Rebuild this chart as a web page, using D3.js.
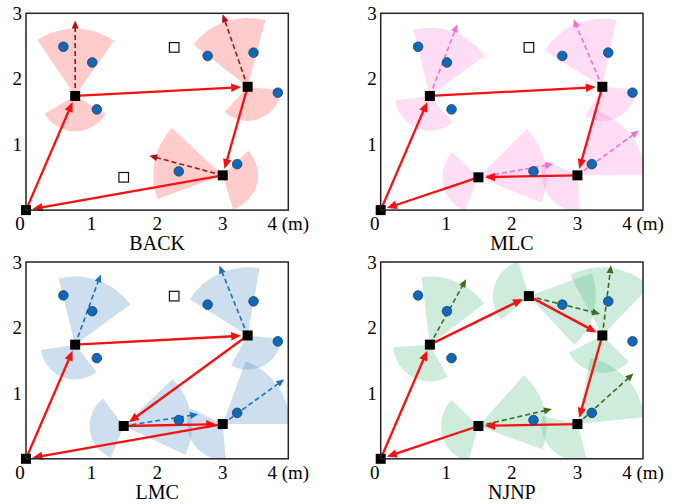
<!DOCTYPE html>
<html>
<head>
<meta charset="utf-8">
<script src="https://d3js.org/d3.v7.min.js"></script>
<style>
  body { margin: 0; background: #fff; }
</style>
</head>
<body>
<svg id="chart" width="681" height="504" font-family="Liberation Serif, Times New Roman, Times, serif"></svg>
<script>

// candidate stop positions (m), index 0 is the base at the origin
var nodes = [[0, 0], [0.75, 1.74], [2.26, 2.48], [3.38, 1.88], [3.0, 0.53], [1.49, 0.5]];
// sensors (blue dots), same in all four panels
var sensors = [[0.57, 2.49], [1.01, 2.25], [1.08, 1.535], [2.77, 2.35],
               [3.47, 2.40], [3.84, 1.79], [2.33, 0.59], [3.22, 0.70]];

var xTicks = [0, 1, 2, 3, 4];
var xTickLabels = ["0", "1", "2", "3", "4 (m)"];
var yTicks = [1, 2, 3];

var names = ["BACK", "MLC", "LMC", "NJNP"];

// tours as node index lists
var backTour = [0, 1, 3, 4, 0];
var mlcTour = [0, 1, 3, 4, 5, 0];
var lmcTour = [0, 1, 3, 5, 4, 0];
var njnpTour = [0, 1, 2, 3, 4, 5, 0];

// stops not used (hollow squares)
var backUnused = [2, 5];
var mlcUnused = [2];
var lmcUnused = [2];
var njnpUnused = [];

// sectors: [node, from angle, to angle, radius m]  (deg, ccw from +x)
var backSectors = [[1, 55, 124, 1.03], [1, -150, -30, 0.54],
                   [3, 75, 142, 1.05], [3, -132, -6, 0.52],
                   [4, 137, 200, 1.06], [4, -73, 44, 0.54]];
var mlcSectors = [[1, 36, 104, 1.04], [1, 187, 311, 0.53],
                  [3, 78, 148, 1.04], [3, -120, -5, 0.52],
                  [4, 0, 74, 1.02], [4, 155, 274, 0.54],
                  [5, -22, 45, 1.04], [5, 136, 248, 0.55]];
var lmcSectors = [[1, 36, 104, 1.04], [1, 189, 308, 0.53],
                  [3, 80, 148, 1.04], [3, -119, -6, 0.52],
                  [5, -25, 44, 1.04], [5, 127, 248, 0.52],
                  [4, 0, 70, 1.02], [4, 154, 275, 0.54]];
var njnpSectors = [[1, 37, 97, 1.04], [1, 184, 299, 0.56],
                   [2, -47, 20, 1.02], [2, 107, 221, 0.55],
                   [3, 46, 118, 1.04], [3, -153, -45, 0.57],
                   [4, 6, 79, 1.02], [4, 167, 285, 0.55],
                   [5, -20, 48, 1.04], [5, 136, 254, 0.57]];

// dashed heading arrows: [node, angle deg, length m]
var backHeads = [[1, 90, 1.15], [3, 109, 1.17], [4, 165, 1.16]];
var mlcHeads = [[1, 69, 1.17], [3, 113, 1.12], [4, 36, 1.16], [5, 10, 1.16]];
var lmcHeads = [[1, 70, 1.14], [3, 112, 1.15], [5, 9, 1.15], [4, 36, 1.16]];
var njnpHeads = [[1, 61, 1.14], [2, -14, 1.12], [3, 83, 1.08], [4, 42, 1.15], [5, 13, 1.15]];

var sectorFill = ["#ff0000", "#ff66cc", "#4a8ac4", "#3cb371"];
var sectorOpacity = [0.2, 0.22, 0.28, 0.25];
var headColor = ["#b01010", "#f070d0", "#1f6fbf", "#3d6b1e"];

var tours = [backTour, mlcTour, lmcTour, njnpTour];
var unused = [backUnused, mlcUnused, lmcUnused, njnpUnused];
var sectors = [backSectors, mlcSectors, lmcSectors, njnpSectors];
var heads = [backHeads, mlcHeads, lmcHeads, njnpHeads];

var svg = d3.select("#chart");
var W = 262.3, H = 196.8;
var origins = [[26, 13.3], [380.7, 13.3], [26, 262], [380.7, 262]];

var x = d3.scaleLinear().domain([0, 4]).range([0, W]);
var y = d3.scaleLinear().domain([0, 3]).range([H, 0]);
var unit = x(1) - x(0);
var rad = Math.PI / 180;

function arrow(g, x1, y1, x2, y2, color, width, hl, hw, dash) {
  var dx = x2 - x1, dy = y2 - y1, L = Math.sqrt(dx * dx + dy * dy);
  var ux = dx / L, uy = dy / L;
  var bx = x2 - ux * hl, by = y2 - uy * hl;
  g.append("line")
    .attr("x1", x1).attr("y1", y1)
    .attr("x2", x2 - ux * hl * 0.8).attr("y2", y2 - uy * hl * 0.8)
    .attr("stroke", color).attr("stroke-width", width)
    .attr("stroke-dasharray", dash || null);
  g.append("path")
    .attr("d", "M" + x2 + "," + y2 +
      "L" + (bx - uy * hw / 2) + "," + (by + ux * hw / 2) +
      "L" + (bx + uy * hw / 2) + "," + (by - ux * hw / 2) + "Z")
    .attr("fill", color);
}

names.forEach(function(name, p) {
  var g = svg.append("g").attr("transform", "translate(" + origins[p][0] + "," + origins[p][1] + ")");

  g.append("clipPath").attr("id", "clip" + p)
    .append("rect").attr("width", W).attr("height", H);

  // sectors
  var arc = d3.arc().innerRadius(0);
  g.append("g").attr("clip-path", "url(#clip" + p + ")")
    .selectAll("path").data(sectors[p]).enter().append("path")
    .attr("transform", function(d) { return "translate(" + x(nodes[d[0]][0]) + "," + y(nodes[d[0]][1]) + ")"; })
    .attr("d", function(d) {
      return arc({ outerRadius: d[3] * unit, startAngle: (90 - d[2]) * rad, endAngle: (90 - d[1]) * rad });
    })
    .attr("fill", sectorFill[p]).attr("fill-opacity", sectorOpacity[p]);

  // dashed heading arrows
  heads[p].forEach(function(h) {
    var n = nodes[h[0]];
    var x1 = x(n[0]), y1 = y(n[1]);
    var x2 = x(n[0] + h[2] * Math.cos(h[1] * rad));
    var y2 = y(n[1] + h[2] * Math.sin(h[1] * rad));
    arrow(g, x1, y1, x2, y2, headColor[p], 1.6, 8, 7, "5,3");
  });

  // tour
  var t = tours[p];
  for (var i = 0; i < t.length - 1; i++) {
    var a = nodes[t[i]], b = nodes[t[i + 1]];
    var x1 = x(a[0]), y1 = y(a[1]), x2 = x(b[0]), y2 = y(b[1]);
    var L = Math.sqrt((x2 - x1) * (x2 - x1) + (y2 - y1) * (y2 - y1));
    x2 -= (x2 - x1) / L * 6.5; y2 -= (y2 - y1) / L * 6.5;
    arrow(g, x1, y1, x2, y2, "#f81010", 2.3, 10, 8.5);
  }

  // sensors
  g.selectAll("circle").data(sensors).enter().append("circle")
    .attr("cx", function(d) { return x(d[0]); })
    .attr("cy", function(d) { return y(d[1]); })
    .attr("r", 4.8)
    .attr("fill", "#1168b8").attr("stroke", "#1b3d63").attr("stroke-width", 0.8);

  // unused stops
  g.selectAll("rect.un").data(unused[p]).enter().append("rect").attr("class", "un")
    .attr("x", function(d) { return x(nodes[d][0]) - 4.8; })
    .attr("y", function(d) { return y(nodes[d][1]) - 4.8; })
    .attr("width", 9.6).attr("height", 9.6)
    .attr("fill", "#fff").attr("stroke", "#111").attr("stroke-width", 1.2);

  // visited stops
  var visited = t.slice(0, -1);
  g.selectAll("rect.st").data(visited).enter().append("rect").attr("class", "st")
    .attr("x", function(d) { return x(nodes[d][0]) - 5; })
    .attr("y", function(d) { return y(nodes[d][1]) - 5; })
    .attr("width", 10).attr("height", 10)
    .attr("fill", "#000");

  // frame
  g.append("rect").attr("width", W).attr("height", H)
    .attr("fill", "none").attr("stroke", "#222").attr("stroke-width", 1.5);

  // tick labels
  g.selectAll("text.xt").data(xTicks).enter().append("text").attr("class", "xt")
    .attr("x", function(d, i) { return x(d) - (i === 0 ? 6 : 0); })
    .attr("y", H + 20)
    .attr("text-anchor", "middle")
    .attr("fill", "#000")
    .style("font-size", "19px")
    .text(function(d, i) { return xTickLabels[i]; });

  g.selectAll("text.yt").data(yTicks).enter().append("text").attr("class", "yt")
    .attr("x", -4)
    .attr("y", function(d) { return y(d) + 6.5; })
    .attr("text-anchor", "end")
    .attr("fill", "#000")
    .style("font-size", "19px")
    .text(function(d) { return d; });

  g.append("text")
    .attr("x", W / 2).attr("y", H + 40)
    .attr("text-anchor", "middle")
    .attr("fill", "#000")
    .style("font-size", "20px")
    .text(name);
});

</script>
</body>
</html>
